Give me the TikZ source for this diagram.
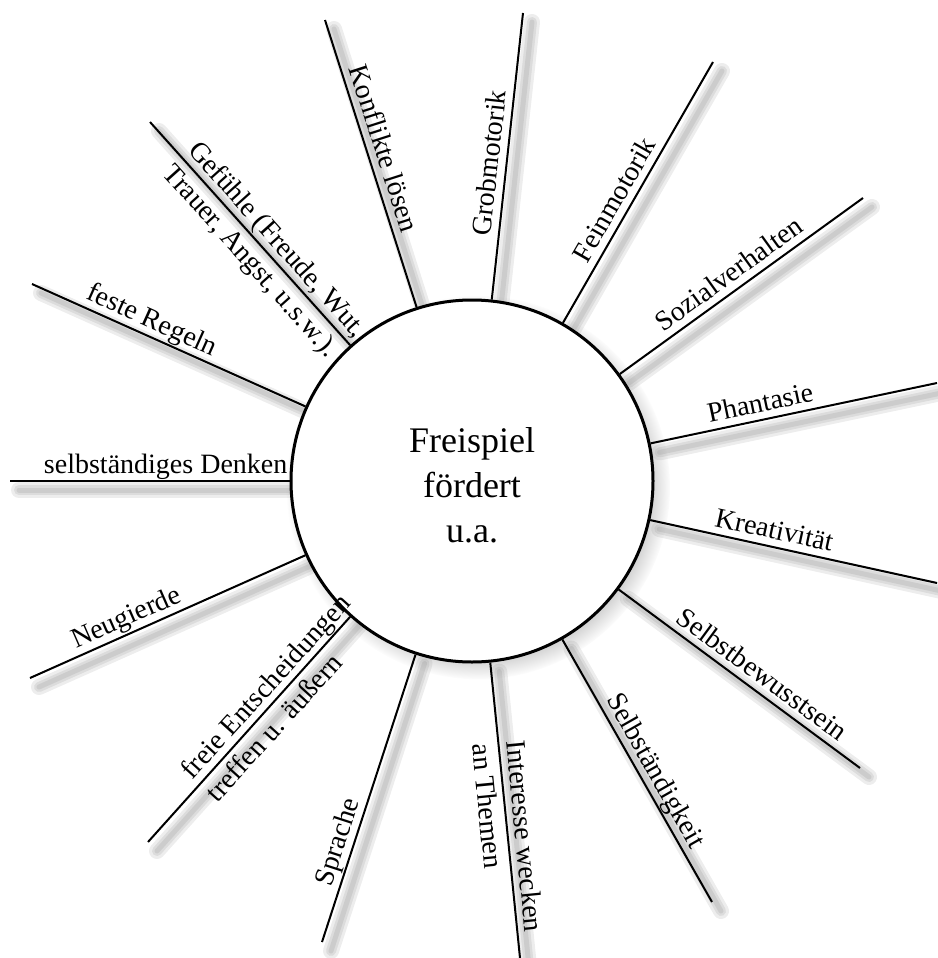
\documentclass[tikz,border=0pt]{standalone}
\usepackage{fontspec}
\setmainfont{Liberation Serif}
\usetikzlibrary{shadows}
\pgfdeclarelayer{background}
\pgfsetlayers{background,main}
\begin{document}
\begin{tikzpicture}[x=1pt,y=-1pt,
  spoke/.style={draw=black, line width=2pt},
  spokeshadow/.style={draw=black, line width=#1, opacity=0.07, line cap=round,
    transform canvas={shift={(9,9)}}},
  lbl/.style={font=\fontsize{28}{30}\selectfont, inner sep=0pt, text depth=7pt, anchor=south},
  lblup/.style={font=\fontsize{28}{30}\selectfont, inner sep=0pt, text depth=7pt, anchor=south west},
  lbldown/.style={font=\fontsize{28}{30}\selectfont, inner sep=0pt, text height=25pt, anchor=north west},
  hub/.style={circle, draw=black, line width=3pt, fill=white, minimum size=362pt,
    inner sep=0pt, circular drop shadow={shadow xshift=6pt, shadow yshift=-6pt,
    shadow scale=1.06, opacity=0.5}},
  titletext/.style={font=\fontsize{36}{45}\selectfont, align=center, inner sep=0pt}
]
\useasboundingbox (0,0) rectangle (937,958);

\node[hub] (hub) at (472,481) {};
\node[titletext] (title) at (472,485) {Freispiel\\fördert\\u.a.};

\coordinate (o1) at (325,20);
\coordinate (o2) at (523,13);
\coordinate (o3) at (713,62);
\coordinate (o4) at (863,198);
\coordinate (o5) at (937,383);
\coordinate (o6) at (937,583);
\coordinate (o7) at (860,768);
\coordinate (o8) at (712,902);
\coordinate (o9) at (520,958);
\coordinate (o10) at (322,942);
\coordinate (o11) at (148,842);
\coordinate (o12) at (30,678);
\coordinate (o13) at (10,481);
\coordinate (o14) at (32,284);
\coordinate (o15) at (150,122);

\begin{pgfonlayer}{background}
  \fill[white] (0,0) rectangle (937,958);
  \foreach \i in {1,...,15} {
    \draw[spokeshadow=16pt] (hub) -- (o\i);
    \draw[spokeshadow=10pt] (hub) -- (o\i);
    \draw[spokeshadow=5pt] (hub) -- (o\i);
  }
\end{pgfonlayer}

\draw[spoke] (hub) -- (o1) node[lbl, pos=0.535, rotate=-72.2] (t1) {Konflikte lösen};
\draw[spoke] (hub) -- (o2) node[lbl, pos=0.47, rotate=83.8] (t2) {Grobmotorik};
\draw[spoke] (hub) -- (o3) node[lbl, pos=0.44, rotate=60.1] (t3) {Feinmotorik};
\draw[spoke] (hub) -- (o4) node[lbl, pos=0.49, rotate=35.8] (t4) {Sozialverhalten};
\draw[spoke] (hub) -- (o5) node[lbl, pos=0.395, rotate=11.8] (t5) {Phantasie};
\draw[spoke] (hub) -- (o6) node[lbl, pos=0.42, rotate=-12.2] (t6) {Kreativität};
\draw[spoke] (hub) -- (o7) node[lbl, pos=0.553, rotate=-36.3] (t7) {Selbstbewusstsein};
\draw[spoke] (hub) -- (o8) node[lbl, pos=0.53, rotate=-60.4] (t8) {Selbständigkeit};
\draw[spoke] (hub) -- (o9)
  node[lblup, pos=0.266, rotate=-84.4] (t9a) {Interesse wecken}
  node[lbldown, pos=0.266, rotate=-84.4] (t9b) {an Themen};
\draw[spoke] (hub) -- (o10) node[lbl, pos=0.67, rotate=72] (t10) {Sprache};
\draw[spoke] (hub) -- (o11)
  node[lblup, pos=0.753, rotate=47.8] (t11a) {freie Entscheidungen}
  node[lbldown, pos=0.753, rotate=47.8] (t11b) {treffen u. äußern};
\draw[spoke] (hub) -- (o12) node[lbl, pos=0.627, rotate=23.7] (t12) {Neugierde};
\draw[spoke] (hub) -- (o13) node[lbl, pos=0.443, rotate=0] (t13) {selbständiges Denken};
\draw[spoke] (hub) -- (o14) node[lbl, pos=0.585, rotate=-24.2] (t14) {feste Regeln};
\draw[spoke] (hub) -- (o15)
  node[lblup, pos=0.848, rotate=-48.1] (t15a) {Gefühle (Freude, Wut,}
  node[lbldown, pos=0.848, rotate=-48.1] (t15b) {Trauer, Angst, u.s.w.).};
\end{tikzpicture}
\end{document}
